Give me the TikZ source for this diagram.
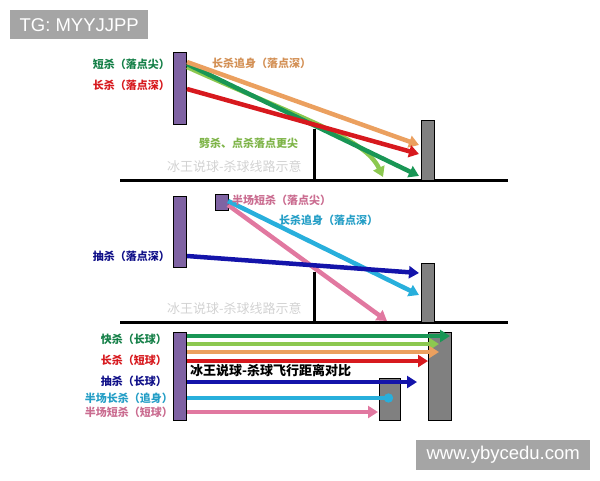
\documentclass[tikz,border=0pt]{standalone}
\usepackage{fontspec}
\setsansfont{Liberation Sans}
\newfontfamily\cjk{Noto Sans CJK SC}
\usetikzlibrary{arrows.meta}
\definecolor{batpurple}{RGB}{127,99,163}
\definecolor{wallgray}{RGB}{128,128,128}
\definecolor{kgreen}{RGB}{25,150,85}
\definecolor{lgreen}{RGB}{140,200,80}
\definecolor{korange}{RGB}{235,160,95}
\definecolor{kred}{RGB}{215,25,30}
\definecolor{knavy}{RGB}{20,20,170}
\definecolor{kcyan}{RGB}{40,175,220}
\definecolor{kpink}{RGB}{225,120,160}
\definecolor{tagbg}{RGB}{165,165,165}

\begin{document}
\begin{tikzpicture}[
   x=1pt,y=-1pt,
   font=\cjk\bfseries\fontsize{11}{13}\selectfont,
   bat/.style={draw,semithick,fill=batpurple,inner sep=0pt,anchor=north west},
   wall/.style={draw,semithick,fill=wallgray,inner sep=0pt,anchor=north west},
   shot/.style={line width=4.5pt,-{Triangle[length=10pt,width=12pt]}},
   ground/.style={line width=3pt},
   lbl/.style={inner sep=0pt},
   wmark/.style={inner sep=0pt,anchor=west,text=gray!35,font=\cjk\fontsize{13}{15}\selectfont},
   tag/.style={fill=tagbg,text=white,inner sep=0pt,anchor=north west,font=\sffamily\fontsize{18.5}{21}\selectfont}]
\useasboundingbox (0,0) rectangle (600,480);
\node[tag,minimum width=138pt,minimum height=29pt] (tg) at (10,10) {TG: MYYJJPP};
\node[tag,minimum width=174pt,minimum height=30pt] (web) at (416,440) {www.ybycedu.com};
% upper panel
\coordinate (g1a) at (120,180); \coordinate (g1b) at (508,180);
\coordinate (n1a) at (314,129); \coordinate (n1b) at (314,180);
\draw[ground] (g1a) -- (g1b);
\draw[ground] (n1a) -- (n1b);
\node[bat,minimum width=13pt,minimum height=72pt] (bat1) at (173,52) {};
\node[wall,minimum width=13pt,minimum height=60pt] (wall1) at (421,120) {};
\coordinate (s1a) at (187,62); \coordinate (e1a) at (419,145);
\coordinate (s1b) at (187,89); \coordinate (e1b) at (419,154);
\coordinate (s1c) at (187,64); \coordinate (e1c) at (419,176);
\coordinate (s1d) at (187,67); \coordinate (e1d) at (383,177);
\draw[shot,lgreen] (s1d) .. controls (300,118) and (365,138) .. (e1d);
\draw[shot,kgreen] (s1c) -- (e1c);
\draw[shot,korange] (s1a) -- (e1a);
\draw[shot,kred] (s1b) -- (e1b);
\node[lbl,anchor=east,text=kgreen!85!black] (l1a) at (170,64) {短杀（落点尖）};
\node[lbl,anchor=east,text=kred] (l1b) at (170,85) {长杀（落点深）};
\node[lbl,anchor=west,text=korange!90!black] (l1c) at (212,63) {长杀追身（落点深）};
\node[lbl,anchor=west,text=lgreen!90!black] (l1d) at (199,143) {劈杀、点杀落点更尖};
\node[wmark] (m1) at (167,167) {冰王说球-杀球线路示意};
% middle panel
\coordinate (g2a) at (120,322); \coordinate (g2b) at (508,322);
\coordinate (n2a) at (314,272); \coordinate (n2b) at (314,322);
\draw[ground] (g2a) -- (g2b);
\draw[ground] (n2a) -- (n2b);
\node[bat,minimum width=13pt,minimum height=71pt] (bat2) at (173,196) {};
\node[bat,minimum width=13pt,minimum height=16pt] (bat3) at (215,194) {};
\node[wall,minimum width=13pt,minimum height=59pt] (wall2) at (421,263) {};
\coordinate (s2a) at (187,256); \coordinate (e2a) at (419,273);
\coordinate (s2b) at (228,201); \coordinate (e2b) at (419,295);
\coordinate (s2c) at (228,205); \coordinate (e2c) at (387,321);
\draw[shot,kpink] (s2c) -- (e2c);
\draw[shot,kcyan] (s2b) -- (e2b);
\draw[shot,knavy] (s2a) -- (e2a);
\node[lbl,anchor=east,text=knavy!80!black] (l2a) at (170,256) {抽杀（落点深）};
\node[lbl,anchor=west,text=kpink!90!black] (l2b) at (232,200) {半场短杀（落点尖）};
\node[lbl,anchor=west,text=kcyan!90!black] (l2c) at (279,220) {长杀追身（落点深）};
\node[wmark] (m2) at (167,309) {冰王说球-杀球线路示意};
% lower panel
\node[bat,minimum width=13pt,minimum height=88pt] (bat4) at (173,332) {};
\node[wall,minimum width=23pt,minimum height=88pt] (wall3) at (428,332) {};
\node[wall,minimum width=21pt,minimum height=42pt] (wall4) at (379,378) {};
\coordinate (s3a) at (187,336); \coordinate (e3a) at (450,336);
\coordinate (s3b) at (187,344); \coordinate (e3b) at (439,344);
\coordinate (s3c) at (187,352); \coordinate (e3c) at (439,352);
\coordinate (s3d) at (187,361); \coordinate (e3d) at (428,361);
\coordinate (s3e) at (187,382); \coordinate (e3e) at (417,382);
\coordinate (s3f) at (187,398); \coordinate (e3f) at (393,398);
\coordinate (s3g) at (187,412); \coordinate (e3g) at (378,412);
\draw[shot,kgreen] (s3a) -- (e3a);
\draw[shot,lgreen] (s3b) -- (e3b);
\draw[shot,korange] (s3c) -- (e3c);
\draw[shot,kred] (s3d) -- (e3d);
\draw[shot,knavy] (s3e) -- (e3e);
\draw[shot,kcyan,-{Circle[length=9pt]}] (s3f) -- (e3f);
\draw[shot,kpink] (s3g) -- (e3g);
\node[lbl,anchor=west,text=black,font=\cjk\bfseries\fontsize{13}{15}\selectfont] (t3) at (190,371) {冰王说球-杀球飞行距离对比};
\node[lbl,anchor=east,text=kgreen!85!black] (l3a) at (167,339) {快杀（长球）};
\node[lbl,anchor=east,text=kred] (l3b) at (167,360) {长杀（短球）};
\node[lbl,anchor=east,text=knavy!80!black] (l3c) at (167,381) {抽杀（长球）};
\node[lbl,anchor=east,text=kcyan!90!black] (l3d) at (173,398) {半场长杀（追身）};
\node[lbl,anchor=east,text=kpink!90!black] (l3e) at (173,412) {半场短杀（短球）};
\end{tikzpicture}
\end{document}
